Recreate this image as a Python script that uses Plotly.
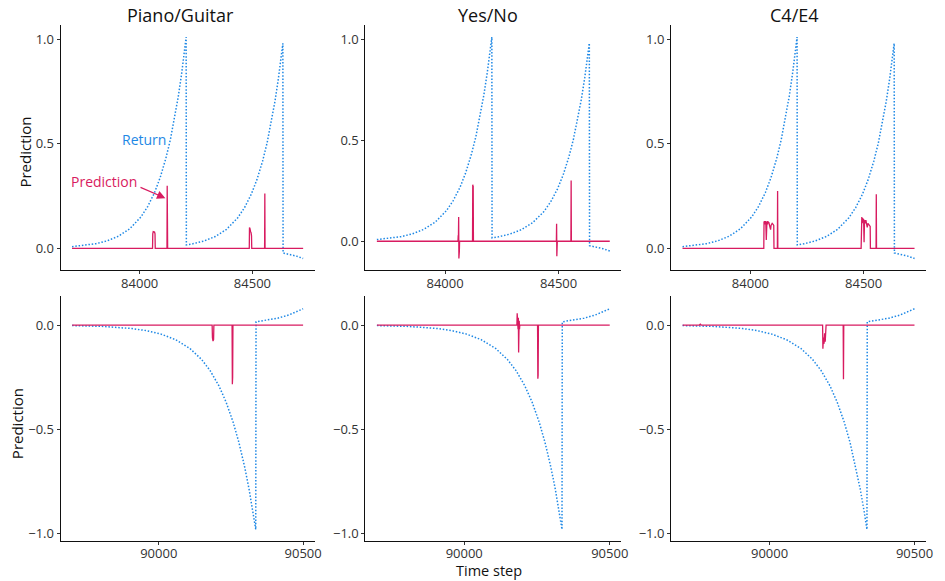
import plotly.graph_objects as go

# ---------------- data ----------------
titles = ["Piano/Guitar", "Yes/No", "C4/E4"]

# Return (discounted) – top row (time steps 83700..84725)
top_ret_t = [83700, 83756, 83806, 83856, 83906, 83956, 84006, 84036, 84066, 84091, 84116,
             84136, 84156, 84171, 84186, 84196, 84206,
             84207, 84235, 84285, 84335, 84385, 84435, 84465, 84495, 84520, 84545, 84565,
             84585, 84600, 84615, 84625, 84635,
             84636, 84665, 84695, 84725]
top_ret_v = [0.0083, 0.0141, 0.0226, 0.0363, 0.0584, 0.0939, 0.151, 0.201, 0.267, 0.339, 0.430,
             0.519, 0.628, 0.724, 0.835, 0.918, 1.01,
             0.0168, 0.0219, 0.0353, 0.0567, 0.0911, 0.1466, 0.1949, 0.2592, 0.3287, 0.4168, 0.504,
             0.6095, 0.7028, 0.8105, 0.8912, 0.98,
             -0.022, -0.0283, -0.0369, -0.048]

# Return – bottom row (time steps 89700..90500)
bot_ret_t = [89700, 89808, 89908, 89958, 90008, 90058, 90108, 90148, 90178, 90208, 90233,
             90258, 90278, 90298, 90313, 90326, 90336,
             90337, 90375, 90412, 90450, 90480, 90500]
bot_ret_v = [-0.0025, -0.0065, -0.0168, -0.027, -0.0434, -0.0699, -0.1123, -0.1643, -0.2184,
             -0.2905, -0.3684, -0.4672, -0.5649, -0.6831, -0.7876, -0.8912, -0.98,
             0.0155, 0.0228, 0.0331, 0.048, 0.0642, 0.078]

# Predictions – top row
top_pred_t_piano = [83700, 84057, 84058, 84060, 84066, 84068, 84069, 84121, 84122, 84123, 84124,
                    84486, 84487, 84489, 84492, 84494, 84496, 84497, 84554, 84555, 84556, 84725]
top_pred_v_piano = [0, 0, 0.07, 0.08, 0.078, 0.07, 0, 0, 0.30, 0.24, 0,
                    0, 0.10, 0.095, 0.08, 0.075, 0.06, 0, 0, 0.262, 0, 0]

top_pred_t_yesno = [83700, 84057, 84058, 84059, 84060, 84061, 84062, 84063, 84064,
                    84121, 84122, 84123, 84124, 84125,
                    84490, 84491, 84492, 84493, 84494, 84554, 84555, 84556, 84725]
top_pred_v_yesno = [0, 0, 0.03, 0.02, 0.12, -0.085, 0.11, -0.05, 0,
                    0, 0.28, 0.27, 0.275, 0,
                    0, 0.087, -0.074, 0.05, 0, 0, 0.30, 0, 0]

top_pred_t_c4e4 = [83700, 84059, 84060, 84062, 84064, 84066, 84068, 84070, 84071, 84073, 84075,
                   84077, 84079, 84081, 84083, 84085, 84087, 84089, 84091, 84093, 84096, 84100,
                   84103, 84104, 84119, 84120, 84121,
                   84489, 84490, 84492, 84494, 84496, 84498, 84500, 84502, 84504, 84507, 84510,
                   84513, 84516, 84519, 84523, 84527, 84529, 84530, 84555, 84556, 84557, 84725]
top_pred_v_c4e4 = [0, 0, 0.125, 0.13, 0.115, 0.13, 0.12, 0.04, 0.125, 0.13, 0.115,
                   0.13, 0.12, 0.125, 0.11, 0.12, 0.10, 0.09, 0.11, 0.12, 0.12, 0.115,
                   0.11, 0, 0, 0.274, 0,
                   0, 0.13, 0.15, 0.12, 0.145, 0.13, 0.14, 0.03, 0.135, 0.12, 0.135,
                   0.11, 0.10, 0.12, 0.115, 0.11, 0.105, 0, 0, 0.259, 0, 0]

# Predictions – bottom row
bot_pred_t_piano = [89700, 90185, 90186, 90188, 90190, 90191, 90254, 90255, 90256, 90257, 90500]
bot_pred_v_piano = [0, 0, -0.06, -0.077, -0.07, 0, 0, -0.284, -0.25, 0, 0]

bot_pred_t_yesno = [89700, 90181, 90182, 90183, 90184, 90185, 90186, 90187, 90188, 90189, 90190,
                    90191, 90252, 90253, 90254, 90255, 90500]
bot_pred_v_yesno = [0, 0, 0.056, -0.01, 0.05, -0.02, 0.035, -0.132, -0.04, 0.02, -0.02,
                    0, 0, -0.257, -0.24, 0, 0]

bot_pred_t_c4e4 = [89700, 89758, 89761, 89764, 90183, 90184, 90186, 90188, 90190, 90192, 90194,
                   90195, 90254, 90255, 90256, 90500]
bot_pred_v_c4e4 = [0, 0, 0.004, 0, 0, -0.113, -0.06, -0.09, -0.04, -0.08, -0.03,
                   0, 0, -0.26, 0, 0]

top_xticks = [84000, 84500]
bot_xticks = [90000, 90500]
top_yticks = [0.0, 0.5, 1.0]
bot_yticks = [-1.0, -0.5, 0.0]

# ---------------- style ----------------
FONT = "Open Sans"
RET_COLOR = "#1E88E5"
PRED_COLOR = "#D81B60"
W, H = 945, 581

col_px = [(61, 317), (368, 626), (676, 933)]
row_px = [(25, 270), (297, 542)]
x_dom = [[a / W, b / W] for a, b in col_px]
y_dom = [[1 - b / H, 1 - a / H] for a, b in row_px]

top_yranges = [[-0.101, 1.068], [-0.14, 1.07], [-0.101, 1.068]]
bot_yranges = [[-1.036, 0.137]] * 3
top_xrange = [83649, 84776]
bot_xrange = [89660, 90540]

top_preds = [(top_pred_t_piano, top_pred_v_piano), (top_pred_t_yesno, top_pred_v_yesno),
             (top_pred_t_c4e4, top_pred_v_c4e4)]
bot_preds = [(bot_pred_t_piano, bot_pred_v_piano), (bot_pred_t_yesno, bot_pred_v_yesno),
             (bot_pred_t_c4e4, bot_pred_v_c4e4)]

fig = go.Figure()
layout = dict(
    width=W, height=H, margin=dict(l=0, r=0, t=0, b=0),
    paper_bgcolor="white", plot_bgcolor="white", showlegend=False,
    font=dict(family=FONT, color="#222222"),
)

axis_common = dict(showline=True, linecolor="#111111", linewidth=1, ticks="outside",
                   ticklen=3, tickcolor="#333333", tickwidth=1, showgrid=False,
                   zeroline=False, tickfont=dict(size=13, color="#333333", family=FONT))

idx = 0
for r in range(2):
    for c in range(3):
        idx += 1
        sfx = "" if idx == 1 else str(idx)
        xa, ya = "x" + sfx, "y" + sfx
        if r == 0:
            rt, rv = top_ret_t, top_ret_v
            pt, pv = top_preds[c]
            xr, yr = top_xrange, top_yranges[c]
            xt, yt = top_xticks, top_yticks
            stand = -1
        else:
            rt, rv = bot_ret_t, bot_ret_v
            pt, pv = bot_preds[c]
            xr, yr = bot_xrange, bot_yranges[c]
            xt, yt = bot_xticks, bot_yticks
            stand = -3
        fig.add_trace(go.Scatter(x=rt, y=rv, mode="lines", xaxis=xa, yaxis=ya,
                                 line=dict(color=RET_COLOR, width=1.5, dash="1.5px,1.8px")))
        fig.add_trace(go.Scatter(x=pt, y=pv, mode="lines", xaxis=xa, yaxis=ya,
                                 line=dict(color=PRED_COLOR, width=1.3)))
        layout["xaxis" + sfx] = dict(axis_common, domain=x_dom[c], anchor=ya, range=xr,
                                     tickvals=xt, ticktext=[str(v) for v in xt],
                                     ticklabelstandoff=stand)
        layout["yaxis" + sfx] = dict(axis_common, domain=y_dom[r], anchor=xa, range=yr,
                                     tickvals=yt, tickformat=".1f")

fig.update_layout(**layout)

ann = []
title_x = [182, 492, 800]
for t, xp in zip(titles, title_x):
    ann.append(dict(text=t, x=xp / W, y=1 - 15 / H, xref="paper", yref="paper",
                    showarrow=False, font=dict(size=18, color="#111111", family=FONT),
                    xanchor="center", yanchor="middle"))
ann.append(dict(text="Prediction", x=25 / W, y=1 - 152 / H, xref="paper", yref="paper",
                showarrow=False, textangle=-90, font=dict(size=15, color="#111111", family=FONT),
                xanchor="center", yanchor="middle"))
ann.append(dict(text="Prediction", x=17 / W, y=1 - 424 / H, xref="paper", yref="paper",
                showarrow=False, textangle=-90, font=dict(size=15, color="#111111", family=FONT),
                xanchor="center", yanchor="middle"))
ann.append(dict(text="Time step", x=493 / W, y=1 - 571 / H, xref="paper", yref="paper",
                showarrow=False, font=dict(size=14.5, color="#111111", family=FONT),
                xanchor="center", yanchor="middle", borderpad=0))
ann.append(dict(text="Return", x=84017, y=0.52, xref="x", yref="y", showarrow=False,
                font=dict(size=14, color=RET_COLOR, family=FONT)))
ann.append(dict(text="Prediction", x=83843, y=0.322, xref="x", yref="y", showarrow=False,
                font=dict(size=14, color=PRED_COLOR, family=FONT)))
ann.append(dict(text="", x=84114, y=0.24, xref="x", yref="y", ax=83997, ay=0.295,
                axref="x", ayref="y", showarrow=True, arrowhead=2, arrowsize=1.4,
                arrowwidth=1.2, arrowcolor=PRED_COLOR, standoff=0, startstandoff=0))
fig.update_layout(annotations=ann)

fig.write_html("out.html")
